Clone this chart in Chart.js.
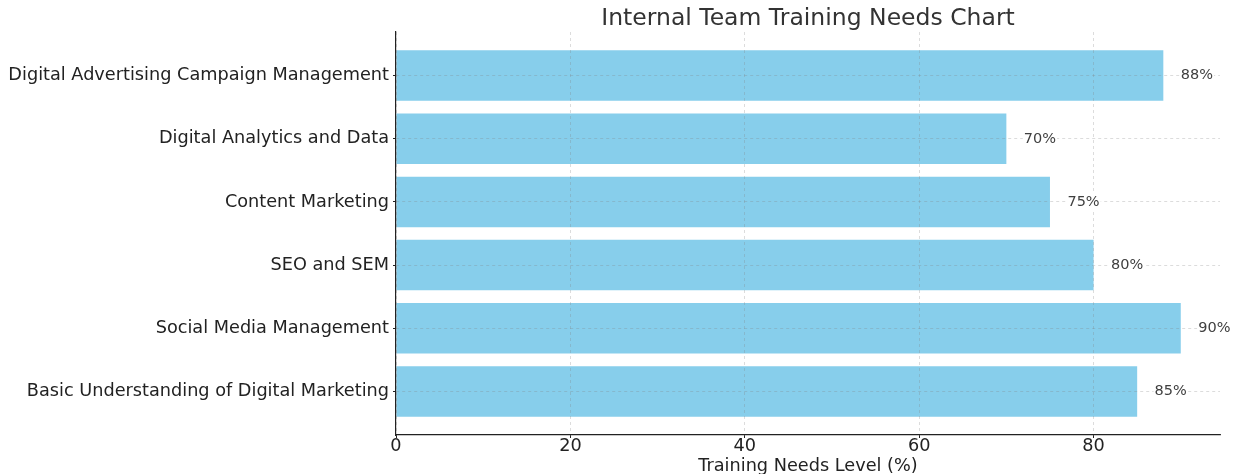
<!DOCTYPE html>
<html>
<head>
<meta charset="utf-8">
<title>Internal Team Training Needs Chart</title>
<script src="https://cdn.jsdelivr.net/npm/chart.js@4/dist/chart.umd.min.js"></script>
<style>
  html, body { margin: 0; padding: 0; background: #ffffff; }
  #wrap { width: 1235px; height: 474px; position: relative; }
</style>
</head>
<body>
<div id="wrap"><canvas id="chart" width="1235" height="474"></canvas></div>
<script>
// Training areas, bottom to top
const categories = [
  "Basic Understanding of Digital Marketing",
  "Social Media Management",
  "SEO and SEM",
  "Content Marketing",
  "Digital Analytics and Data",
  "Digital Advertising Campaign Management"
];
// Training needs level (%) per area
const needLevels = [85, 90, 80, 75, 70, 88];
// Value axis ticks
const xTicks = [0, 20, 40, 60, 80];

const FONT = "'DejaVu Sans', sans-serif";
const LABEL_SIZE = 17.7;

// Percentage labels placed just past the end of each bar
const valueLabels = {
  id: 'valueLabels',
  afterDraw(chart) {
    const ctx = chart.ctx;
    const xs = chart.scales.x;
    const meta = chart.getDatasetMeta(0);
    ctx.save();
    ctx.font = "14.5px " + FONT;
    ctx.textAlign = 'left';
    ctx.textBaseline = 'middle';
    meta.data.forEach((bar, i) => {
      const v = needLevels[i];
      const txt = v + '%';
      const x = xs.getPixelForValue(v + 2);
      const w = ctx.measureText(txt).width;
      ctx.fillStyle = '#ffffff';
      ctx.fillRect(x - 1, bar.y - 8, w + 2, 16);
      ctx.fillStyle = '#404040';
      ctx.fillText(txt, x, bar.y);
    });
    ctx.restore();
  }
};

// Chart title centred over the plotting area
const plotTitle = {
  id: 'plotTitle',
  afterDraw(chart) {
    const ctx = chart.ctx;
    const a = chart.chartArea;
    ctx.save();
    ctx.font = "23.5px " + FONT;
    ctx.fillStyle = '#333333';
    ctx.textAlign = 'center';
    ctx.textBaseline = 'middle';
    ctx.fillText('Internal Team Training Needs Chart', (a.left + a.right) / 2, 19);
    ctx.restore();
  }
};

const gridOpts = {
  color: 'rgba(128,128,128,0.35)',
  lineWidth: 0.8,
  offset: false,
  z: 1,
  tickColor: '#222222',
  tickLength: 3,
  tickWidth: 1,
  tickBorderDash: []
};

new Chart(document.getElementById('chart'), {
  type: 'bar',
  data: {
    datasets: [{
      data: needLevels.map((v, i) => ({ x: v, y: i })),
      backgroundColor: '#87CEEB',
      borderWidth: 0,
      barPercentage: 0.8,
      categoryPercentage: 1.0
    }]
  },
  options: {
    indexAxis: 'y',
    responsive: false,
    animation: false,
    layout: { padding: { top: 32, right: 15, left: 0, bottom: 0 } },
    plugins: {
      legend: { display: false },
      title: { display: false },
      tooltip: { enabled: false }
    },
    scales: {
      x: {
        type: 'linear',
        min: 0,
        max: 94.5,
        offset: false,
        afterBuildTicks(scale) { scale.ticks = xTicks.map(v => ({ value: v })); },
        afterFit(scale) { scale.height = 39; },
        grid: gridOpts,
        border: { display: true, color: '#222222', width: 1.2, dash: [3, 3], z: 1 },
        ticks: {
          color: '#222222',
          font: { family: FONT, size: LABEL_SIZE },
          padding: -2,
          maxRotation: 0
        },
        title: {
          display: true,
          text: 'Training Needs Level (%)',
          color: '#222222',
          font: { family: FONT, size: LABEL_SIZE },
          padding: { top: 0, bottom: -3 }
        }
      },
      y: {
        type: 'linear',
        min: -0.69,
        max: 5.69,
        offset: false,
        afterBuildTicks(scale) { scale.ticks = categories.map((c, i) => ({ value: i })); },
        afterFit(scale) { scale.width = 396; },
        grid: gridOpts,
        border: { display: true, color: '#222222', width: 1.2, dash: [3, 3], z: 1 },
        ticks: {
          color: '#222222',
          font: { family: FONT, size: LABEL_SIZE },
          padding: 4,
          callback: (v) => categories[v]
        }
      }
    }
  },
  plugins: [valueLabels, plotTitle]
});
</script>
</body>
</html>
